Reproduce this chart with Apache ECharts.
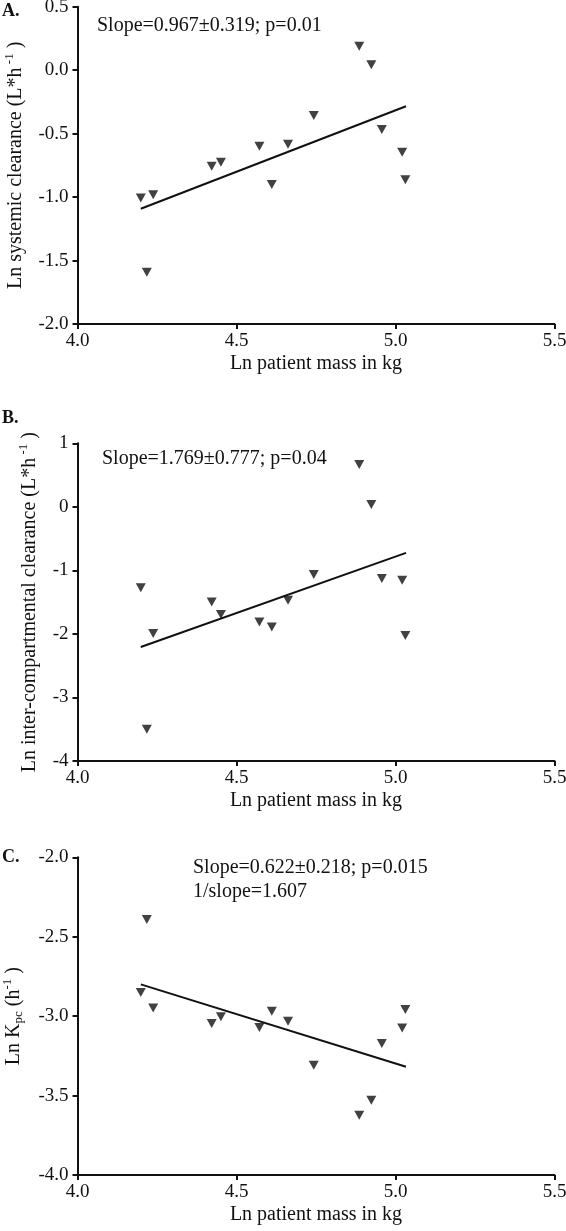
<!DOCTYPE html>
<html><head><meta charset="utf-8">
<script src="https://cdn.jsdelivr.net/npm/echarts@6/dist/echarts.min.js"></script>
<style>html,body{margin:0;padding:0;background:#fff}#c{width:566px;height:1231px}</style>
</head><body><div id="c"></div>
<script>
// ---- data ----
const massLn   = [4.199, 4.238, 4.218, 4.422, 4.451, 4.572, 4.611, 4.662, 4.743, 4.886, 4.924, 4.957, 5.021, 5.031];
const clSys    = [-1.008, -0.981, -1.592, -0.758, -0.726, -0.600, -0.900, -0.584, -0.358, 0.189, 0.042, -0.468, -0.647, -0.863];
const clInter  = [-1.275, -1.994, -3.500, -1.496, -1.695, -1.811, -1.890, -1.469, -1.065, 0.667, 0.037, -1.128, -1.155, -2.026];
const kpc      = [-2.851, -2.948, -2.391, -3.046, -3.004, -3.071, -2.969, -3.032, -3.309, -3.624, -3.529, -3.172, -3.074, -2.958];
const fitX     = [4.199, 5.033];
const fitSys   = [-1.092, -0.284];
const fitInter = [-2.205, -0.724];
const fitKpc   = [-2.800, -3.319];
const xRange   = [4.0, 5.5, 0.5];
const yRangeA  = [-2.0, 0.5, 0.5];
const yRangeB  = [-4, 1, 1];
const yRangeC  = [-4.0, -2.0, 0.5];
const panelLetters = ['A.', 'B.', 'C.'];
const xTitle = 'Ln patient mass in kg';
const yTitles = [
  '{n|Ln systemic clearance (L*h}{sup| -1}{n| )}',
  '{n|Ln inter-compartmental clearance (L*h}{sup| -1}{n| )}',
  '{n|Ln K}{sub|pc}{n| (h}{sup|-1}{n| )}'
];
const notes = [
  ['Slope=0.967\u00B10.319; p=0.01'],
  ['Slope=1.769\u00B10.777; p=0.04'],
  ['Slope=0.622\u00B10.218; p=0.015', '1/slope=1.607']
];

// ---- chart ----
const F = 'Liberation Serif';
const INK = '#111';
const grids = [
  {left: 77.5, top: 6.7, width: 477, height: 317.3, outerBoundsMode: 'none', containLabel: false},
  {left: 77.5, top: 443.3, width: 477, height: 317.7, outerBoundsMode: 'none', containLabel: false},
  {left: 77.5, top: 857.3, width: 477, height: 317.7, outerBoundsMode: 'none', containLabel: false}
];
const yRanges = [yRangeA, yRangeB, yRangeC];
const yDigits = [1, 0, 1];
const yNameGaps = [50, 36, 52];
const rich = {
  n:   {fontFamily: F, fontSize: 20, color: INK, lineHeight: 24},
  sup: {fontFamily: F, fontSize: 13, color: INK, lineHeight: 13, verticalAlign: 'top'},
  sub: {fontFamily: F, fontSize: 13, color: INK, lineHeight: 13, verticalAlign: 'bottom'}
};
function axLine(){ return {show: true, onZero: false, lineStyle: {color: INK, width: 2}}; }
function axTick(){ return {show: true, length: 5, lineStyle: {color: INK, width: 2}}; }

const xAxis = grids.map((g, i) => ({
  type: 'value', gridIndex: i, min: xRange[0], max: xRange[1], interval: xRange[2],
  axisLine: axLine(), axisTick: axTick(), splitLine: {show: false},
  axisLabel: {margin: 8, fontFamily: F, fontSize: 19, color: INK, formatter: v => v.toFixed(1)},
  name: xTitle, nameLocation: 'middle', nameGap: 30,
  nameTextStyle: {fontFamily: F, fontSize: 20, color: INK}
}));
const yAxis = grids.map((g, i) => ({
  type: 'value', gridIndex: i, min: yRanges[i][0], max: yRanges[i][1], interval: yRanges[i][2],
  axisLine: axLine(), axisTick: axTick(), splitLine: {show: false},
  axisLabel: {margin: 9, fontFamily: F, fontSize: 19, color: INK, formatter: v => v.toFixed(yDigits[i])},
  name: yTitles[i], nameLocation: 'middle', nameGap: yNameGaps[i],
  nameTextStyle: {fontFamily: F, fontSize: 20, color: INK, rich: rich}
}));

const ys = [clSys, clInter, kpc];
const fits = [fitSys, fitInter, fitKpc];
const series = [];
ys.forEach((arr, i) => {
  series.push({
    type: 'scatter', xAxisIndex: i, yAxisIndex: i,
    symbol: 'triangle', symbolRotate: 180, symbolSize: [10, 9],
    itemStyle: {color: INK}, silent: true,
    data: massLn.map((x, k) => [x, arr[k]])
  });
  series.push({
    type: 'line', xAxisIndex: i, yAxisIndex: i, showSymbol: false, silent: true,
    lineStyle: {color: INK, width: 2},
    data: fitX.map((x, k) => [x, fits[i][k]])
  });
});

const letterPos = [[2, 11], [2, 418], [2, 857]];
const notePos = [[97, 26], [102, 459], [193, 868]];
const graphic = [];
panelLetters.forEach((t, i) => graphic.push({
  type: 'text', x: letterPos[i][0], y: letterPos[i][1],
  style: {text: t, font: 'bold 18px "' + F + '"', fill: INK, align: 'left', verticalAlign: 'middle'}
}));
notes.forEach((lines, i) => lines.forEach((t, k) => graphic.push({
  type: 'text', x: notePos[i][0], y: notePos[i][1] + k * 23.5,
  style: {text: t, font: '20px "' + F + '"', fill: INK, align: 'left', verticalAlign: 'middle'}
})));

const chart = echarts.init(document.getElementById('c'), null, {renderer: 'canvas'});
chart.setOption({
  animation: false,
  backgroundColor: '#fff',
  grid: grids,
  xAxis: xAxis,
  yAxis: yAxis,
  series: series,
  graphic: graphic
});
</script></body></html>
